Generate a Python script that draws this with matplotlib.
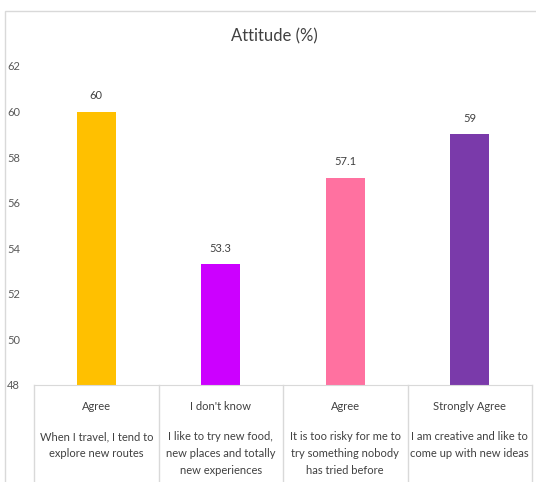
import matplotlib
matplotlib.use("Agg")
import matplotlib.pyplot as plt
import matplotlib.transforms as mtransforms
from matplotlib.lines import Line2D
from matplotlib.patches import Rectangle

# ---- data ----
responses = ["Agree", "I don't know", "Agree", "Strongly Agree"]
statements = [
    ["When I travel, I tend to", "explore new routes"],
    ["I like to try new food,", "new places and totally", "new experiences"],
    ["It is too risky for me to", "try something nobody", "has tried before"],
    ["I am creative and like to", "come up with new ideas"],
]
values = [60, 53.3, 57.1, 59]
value_labels = ["60", "53.3", "57.1", "59"]
colors = ["#FFC000", "#CC00FF", "#FF71A0", "#7A3AAA"]
yticks = [48, 50, 52, 54, 56, 58, 60, 62]
title = "Attitude (%)"

W, H = 536, 482
FONT = ["Lato", "DejaVu Sans"]
TXT = "#404040"
GRID = "#D9D9D9"

fig = plt.figure(figsize=(W / 100, H / 100), dpi=100)
fig.patch.set_facecolor("white")

# outer chart border
fig.patches.append(Rectangle((5 / W, -0.1), 1.2, 1 - 11 / H + 0.1,
                             transform=fig.transFigure, fill=False,
                             edgecolor=GRID, linewidth=1))

ax_l, ax_r, ax_t, ax_b = 34, 532, 66, 385
ax = fig.add_axes([ax_l / W, 1 - ax_b / H, (ax_r - ax_l) / W, (ax_b - ax_t) / H])

x = list(range(len(values)))
ax.bar(x, [v - yticks[0] for v in values], bottom=yticks[0], width=0.31, color=colors)
ax.set_xlim(-0.5, len(values) - 0.5)
ax.set_ylim(yticks[0], yticks[-1])
ax.set_yticks(yticks)
ax.set_yticklabels([str(t) for t in yticks], fontsize=8, color="#595959", family=FONT)
ax.set_xticks([])
ax.tick_params(axis="y", length=0, pad=10)
for s in ["left", "top", "right"]:
    ax.spines[s].set_visible(False)
ax.spines["bottom"].set_color(GRID)

for xi, v, lab in zip(x, values, value_labels):
    ax.annotate(lab, (xi, v), xytext=(0, 16), textcoords="offset pixels",
                ha="center", va="center", fontsize=8, color=TXT, family=FONT)

fig.text(274 / W, 1 - 36 / H, title, ha="center", va="center",
         fontsize=12, color=TXT, family=FONT)

# category table
bt = mtransforms.blended_transform_factory(ax.transData, fig.transFigure)
for b in [i - 0.5 for i in range(len(values) + 1)]:
    fig.add_artist(Line2D([b, b], [1 - ax_b / H, -0.05], transform=bt,
                          color=GRID, linewidth=1))
for xi, resp, st in zip(x, responses, statements):
    fig.text(xi, 1 - 407 / H, resp, transform=bt, ha="center", va="center",
             fontsize=8, color=TXT, family=FONT)
    for j, line in enumerate(st):
        fig.text(xi, 1 - (437 + 16.5 * j) / H, line, transform=bt, ha="center",
                 va="center", fontsize=8, color=TXT, family=FONT)

fig.savefig("out.png", dpi=100, facecolor="white")
